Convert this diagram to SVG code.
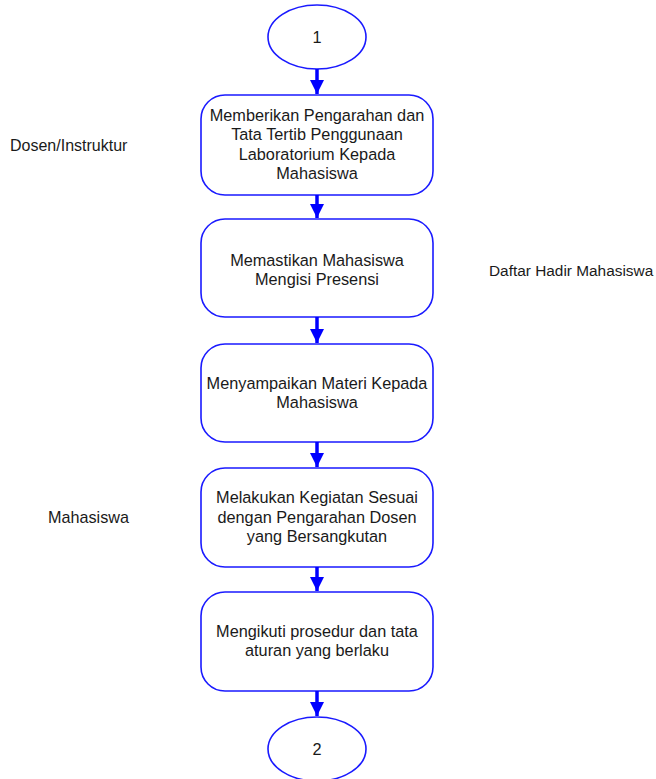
<svg xmlns="http://www.w3.org/2000/svg" width="656" height="779" viewBox="0 0 656 779">
<defs>
<marker id="ah" markerWidth="4" markerHeight="4" refX="4" refY="2" orient="auto" markerUnits="strokeWidth">
<path d="M0,0 L4,2 L0,4 Z" fill="#0000ff"/>
</marker>
<style>
.box{fill:#fff;stroke:#1a1aff;stroke-width:1.6}
.t{font-family:"Liberation Sans",Arial,sans-serif;font-size:16.3px;fill:#1a1a1a;text-anchor:middle}
.l{font-family:"Liberation Sans",Arial,sans-serif;font-size:16px;fill:#1a1a1a}
.c{stroke:#0000ff;stroke-width:3.5;fill:none;marker-end:url(#ah)}
</style>
</defs>
<rect width="656" height="779" fill="#fff"/>
<g id="start"><ellipse class="box" cx="317" cy="37" rx="49" ry="32"/><text class="t" x="317" y="43">1</text></g>
<g id="n1"><rect class="box" x="201" y="95" width="232" height="100" rx="24"/>
<text class="t" x="317" y="121">Memberikan Pengarahan dan</text>
<text class="t" x="317" y="140">Tata Tertib Penggunaan</text>
<text class="t" x="317" y="160">Laboratorium Kepada</text>
<text class="t" x="317" y="179">Mahasiswa</text></g>
<g id="n2"><rect class="box" x="201" y="219" width="232" height="98" rx="24"/>
<text class="t" x="317" y="266">Memastikan Mahasiswa</text>
<text class="t" x="317" y="285">Mengisi Presensi</text></g>
<g id="n3"><rect class="box" x="201" y="344" width="232" height="98" rx="24"/>
<text class="t" x="317" y="389">Menyampaikan Materi Kepada</text>
<text class="t" x="317" y="408">Mahasiswa</text></g>
<g id="n4"><rect class="box" x="201" y="468" width="232" height="99" rx="24"/>
<text class="t" x="317" y="503">Melakukan Kegiatan Sesuai</text>
<text class="t" x="317" y="523">dengan Pengarahan Dosen</text>
<text class="t" x="317" y="542">yang Bersangkutan</text></g>
<g id="n5"><rect class="box" x="201" y="592" width="232" height="99" rx="24"/>
<text class="t" x="317" y="637">Mengikuti prosedur dan tata</text>
<text class="t" x="317" y="656">aturan yang berlaku</text></g>
<g id="end"><ellipse class="box" cx="317" cy="749" rx="49" ry="32"/><text class="t" x="317" y="755">2</text></g>
<g id="lab1"><text class="l" x="10" y="151">Dosen/Instruktur</text></g>
<g id="lab2"><text class="l" x="489" y="276" style="font-size:15.4px">Daftar Hadir Mahasiswa</text></g>
<g id="lab3"><text class="l" x="48" y="523" style="font-size:16.2px">Mahasiswa</text></g>
<g id="connectors">
<line class="c" x1="317" y1="69" x2="317" y2="94"/>
<line class="c" x1="317" y1="195" x2="317" y2="218"/>
<line class="c" x1="317" y1="317" x2="317" y2="343"/>
<line class="c" x1="317" y1="442" x2="317" y2="467"/>
<line class="c" x1="317" y1="567" x2="317" y2="591"/>
<line class="c" x1="317" y1="691" x2="317" y2="716"/>
</g>
</svg>
